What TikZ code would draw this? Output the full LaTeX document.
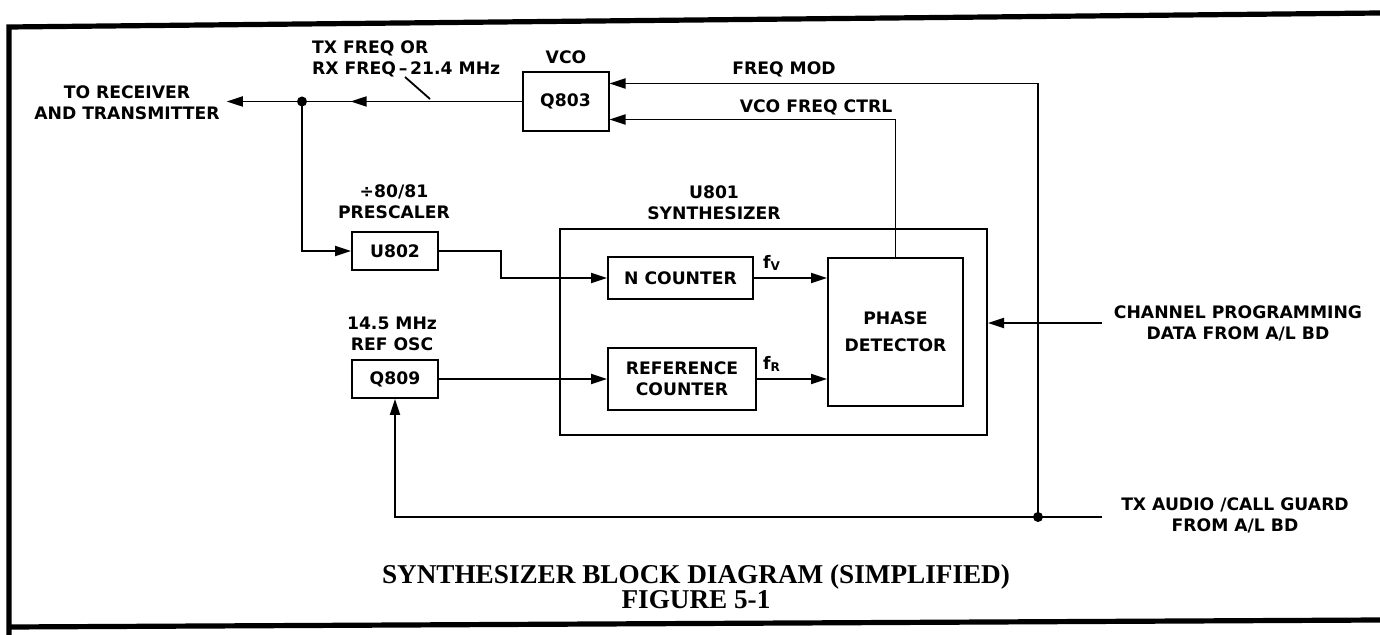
\documentclass[tikz,border=0pt]{standalone}
\usepackage{fontspec}
\setmainfont{Liberation Serif}
\newfontfamily\lettering{DejaVu Sans}
\usetikzlibrary{arrows.meta,decorations.markings}

\begin{document}
\begin{tikzpicture}[x=0.5pt,y=-0.5pt,
    every node/.style={font=\lettering\bfseries\fontsize{8.6}{10.5}\selectfont, align=center},
    blk/.style={draw, line width=1pt, inner sep=0pt},
    wire/.style={line width=0.9pt},
    >={Triangle[length=8pt,width=5pt]},
    midarrow/.style={postaction={decorate},
        decoration={markings, mark=at position #1 with {\arrow{>}}}}]
    \useasboundingbox (0,0) rectangle (1380,635);
    % frame
    \draw[line width=2.6pt] (1380,13) -- (9,27) -- (9,635);
    \draw[line width=2.6pt] (9,627) -- (1380,620);

    % blocks
    \node[blk, minimum width=43pt, minimum height=29.5pt] (q803) at (565.5,101.5) {Q803};
    \node[blk, minimum width=43pt, minimum height=19pt] (u802) at (395,251) {U802};
    \node[blk, minimum width=43pt, minimum height=19pt] (q809) at (395,379) {Q809};
    \node[blk, minimum width=213.5pt, minimum height=103pt] (synth) at (773.5,332) {};
    \node[blk, minimum width=72.5pt, minimum height=21pt] (ncnt) at (680.5,278) {N COUNTER};
    \node[blk, minimum width=74pt, minimum height=31pt] (rcnt) at (682,379) {REFERENCE\\COUNTER};
    \node[blk, minimum width=67.5pt, minimum height=74pt] (phdet) at (895.5,332) {PHASE\\[3pt]DETECTOR};

    % labels
    \node (rxlbl) at (127,103) {TO RECEIVER\\AND TRANSMITTER};
    \node[anchor=west, align=left] (freqlbl) at (305,59) {TX FREQ OR\\RX FREQ\,–\,21.4 MHz};
    \node (vcolbl) at (566,57) {VCO};
    \node (fmlbl) at (784,69) {FREQ MOD};
    \node (ctrllbl) at (816,107) {VCO FREQ CTRL};
    \node (preslbl) at (394,202) {÷80/81\\PRESCALER};
    \node (u801lbl) at (714,203) {U801\\SYNTHESIZER};
    \node (osclbl) at (392,334) {14.5 MHz\\REF OSC};
    \node (chlbl) at (1238,323) {CHANNEL PROGRAMMING\\DATA FROM A/L BD};
    \node (txalbl) at (1235,515) {TX AUDIO /CALL GUARD\\FROM A/L BD};
    \node (fvlbl) at (772,263) {f\textsubscript{V}};
    \node (frlbl) at (772,364) {f\textsubscript{R}};
    \node[font=\bfseries\fontsize{13.6}{12.5}\selectfont] (caption) at (696,587)
        {SYNTHESIZER BLOCK DIAGRAM (SIMPLIFIED)\\FIGURE 5-1};

    \coordinate (jn) at (302,101.5);
    \coordinate (jb) at (1038,517);
    \coordinate (chin) at (1102,323);
    \coordinate (txin) at (1102,517);

    % connectors
    \draw[wire,->,midarrow=0.58] (q803.west) -- (q803.west -| rxlbl.east);
    \draw[wire] (405,77) -- (430,99);
    \fill (jn) circle (2.5pt);
    \draw[wire,->] (jn) |- (u802.west);
    \draw[wire,->] (u802.east) -- (501,251) |- (ncnt.west);
    \draw[wire,->] (q809.east) -- (rcnt.west);
    \draw[wire,->] (ncnt.east) -- (ncnt.east -| phdet.west);
    \draw[wire,->] (rcnt.east) -- (rcnt.east -| phdet.west);
    \draw[wire,->] (phdet.north) |- ([yshift=-9pt]q803.east);
    \draw[wire,->] (jb) |- ([yshift=9pt]q803.east);
    \draw[wire] (txin) -- (jb);
    \fill (jb) circle (2.5pt);
    \draw[wire,->] (jb) -| (q809.south);
    \draw[wire,->] (chin) -- (chin -| synth.east);
\end{tikzpicture}
\end{document}
